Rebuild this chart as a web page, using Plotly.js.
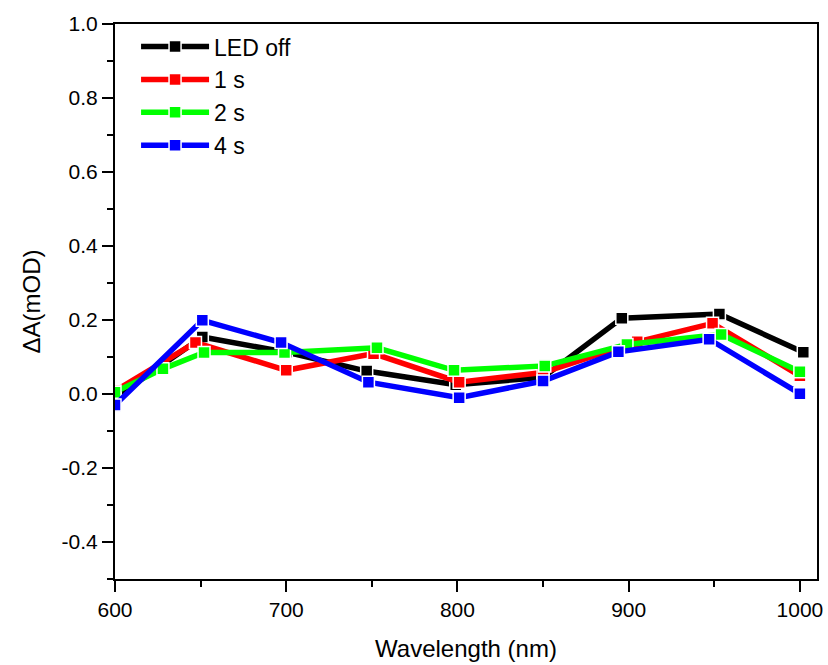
<!DOCTYPE html>
<html>
<head>
<meta charset="utf-8">
<script src="https://cdn.plot.ly/plotly-3.0.1.min.js"></script>
<style>html,body{margin:0;padding:0;background:#fff;}#chart{width:828px;height:665px;}</style>
</head>
<body>
<div id="chart"></div>
<script>
// Data
const seriesNames = ["LED off", "1 s", "2 s", "4 s"];
const seriesColors = ["#000000", "#ff0000", "#00ff00", "#0000ff"];

const ledOffX = [600, 651, 700, 747, 799, 850, 896, 953, 1002];
const ledOffY = [-0.01, 0.154, 0.113, 0.062, 0.025, 0.045, 0.205, 0.216, 0.113];

const oneSecX = [600, 647, 700, 751, 801, 850, 905, 949, 1000];
const oneSecY = [0.008, 0.139, 0.064, 0.109, 0.032, 0.058, 0.141, 0.191, 0.049];

const twoSecX = [600, 628, 652, 699, 753, 798, 851, 899, 954, 1000];
const twoSecY = [0.005, 0.068, 0.112, 0.112, 0.125, 0.064, 0.076, 0.134, 0.161, 0.060];

const fourSecX = [600, 651, 697, 748, 801, 850, 894, 947, 1000];
const fourSecY = [-0.030, 0.199, 0.139, 0.032, -0.010, 0.035, 0.114, 0.148, 0.001];

const xTickVals = [600, 700, 800, 900, 1000];
const xTickText = ["600", "700", "800", "900", "1000"];
const yTickVals = [-0.4, -0.2, 0.0, 0.2, 0.4, 0.6, 0.8, 1.0];
const yTickText = ["-0.4", "-0.2", "0.0", "0.2", "0.4", "0.6", "0.8", "1.0"];

const xs = [ledOffX, oneSecX, twoSecX, fourSecX];
const ys = [ledOffY, oneSecY, twoSecY, fourSecY];

const traces = seriesNames.map((name, i) => ({
  type: "scatter",
  mode: "lines+markers",
  name: name,
  x: xs[i],
  y: ys[i],
  line: {color: seriesColors[i], width: 5.5},
  marker: {symbol: "square", size: 12, color: seriesColors[i], line: {color: "#ffffff", width: 1.5}}
}));

const fontFam = "Liberation Sans, Arial, sans-serif";

const layout = {
  width: 828,
  height: 665,
  margin: {l: 115, r: 11, t: 24, b: 86},
  paper_bgcolor: "#ffffff",
  plot_bgcolor: "#ffffff",
  font: {family: fontFam, color: "#000000", size: 21},
  showlegend: true,
  legend: {
    x: 0.03, y: 0.998, xanchor: "left", yanchor: "top",
    bgcolor: "rgba(0,0,0,0)",
    font: {family: fontFam, size: 23, color: "#000"},
    tracegroupgap: 0,
    itemwidth: 68
  },
  xaxis: {
    range: [600, 1010],
    tickvals: xTickVals,
    ticktext: xTickText,
    ticks: "outside",
    ticklen: 11,
    tickwidth: 2,
    tickcolor: "#000",
    minor: {tickvals: [650, 750, 850, 950], ticks: "outside", ticklen: 6, tickwidth: 2, tickcolor: "#000", showgrid: false},
    showline: true,
    linewidth: 2,
    linecolor: "#000",
    mirror: true,
    showgrid: false,
    zeroline: false,
    tickfont: {family: fontFam, size: 21},
    title: {text: "Wavelength (nm)", font: {family: fontFam, size: 24}, standoff: 20}
  },
  yaxis: {
    range: [-0.5, 1.0],
    tickvals: yTickVals,
    ticktext: yTickText,
    ticks: "outside",
    ticklen: 11,
    tickwidth: 2,
    tickcolor: "#000",
    minor: {tickvals: [-0.5, -0.3, -0.1, 0.1, 0.3, 0.5, 0.7, 0.9], ticks: "outside", ticklen: 6, tickwidth: 2, tickcolor: "#000", showgrid: false},
    showline: true,
    linewidth: 2,
    linecolor: "#000",
    mirror: true,
    showgrid: false,
    zeroline: false,
    tickfont: {family: fontFam, size: 21},
    title: {text: "ΔA(mOD)", font: {family: fontFam, size: 24}, standoff: 14}
  }
};

Plotly.newPlot("chart", traces, layout, {displayModeBar: false, staticPlot: true});
</script>
</body>
</html>
